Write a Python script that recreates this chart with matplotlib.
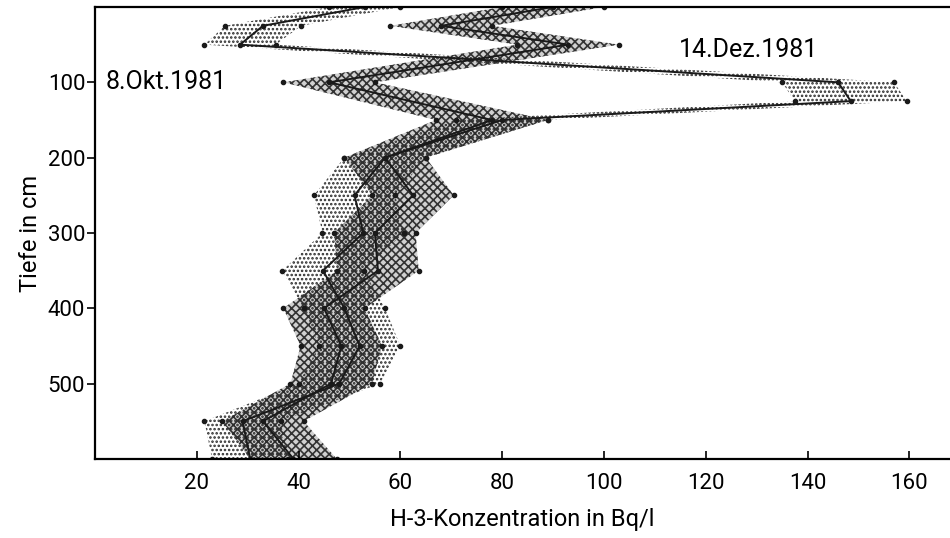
import numpy as np
import matplotlib.pyplot as plt

# Tiefenprofile H-3
tiefe_dez = [0, 25, 50, 100, 125, 150, 200, 250, 300, 350, 400, 450, 500, 550, 600]
konz_dez = [53, 33, 28.5, 146, 148.5, 80, 57, 51, 52.7, 44.8, 49, 52, 48, 29, 30.5]
fehler_dez = [7, 7.5, 7, 11, 11, 9, 8, 8, 8, 8, 8, 8, 8, 7.5, 7.5]

tiefe_okt = [0, 25, 50, 100, 150, 200, 250, 300, 350, 400, 450, 500, 550, 600]
konz_okt = [90, 68, 93, 46, 78, 57, 62.5, 55, 55.6, 45, 48.4, 46.4, 33, 39]
fehler_okt = [10, 10, 10, 9, 11, 8, 8, 8, 8, 8, 8, 8, 8, 8.5]

x_ticks = [20, 40, 60, 80, 100, 120, 140, 160]
y_ticks = [100, 200, 300, 400, 500]

plt.rcParams['font.family'] = ['Roboto', 'DejaVu Sans']
plt.rcParams['hatch.linewidth'] = 1.2

fig = plt.figure(figsize=(9.5, 5.38), dpi=100)
ax = fig.add_axes([0.1, 0.147, 0.9, 0.84])

#%% Baender (Fehlerbereiche)
td = np.array(tiefe_dez)
kd = np.array(konz_dez)
fd = np.array(fehler_dez)
to = np.array(tiefe_okt)
ko = np.array(konz_okt)
fo = np.array(fehler_okt)

# 8. Okt: gerastertes Band, 14. Dez: punktiertes Band
ax.fill_betweenx(to, ko - fo, ko + fo, facecolor='#d0d0d0', edgecolor='#333333',
                 hatch='xxxx', linewidth=0)
ax.fill_betweenx(td, kd - fd, kd + fd, facecolor='none', edgecolor='#2a2a2a',
                 hatch='....', linewidth=0)

#%% Linien mit Messpunkten
ax.plot(ko, to, color='#1a1a1a', lw=1.4, marker='o', ms=3)
ax.plot(kd, td, color='#1a1a1a', lw=1.4, marker='o', ms=3)
for k, f, t in [(ko, fo, to), (kd, fd, td)]:
    ax.plot(k - f, t, 'o', color='#1a1a1a', ms=3)
    ax.plot(k + f, t, 'o', color='#1a1a1a', ms=3)

ax.text(2, 100, '8.Okt.1981', fontsize=18, va='center', ha='left')
ax.text(114.7, 57, '14.Dez.1981', fontsize=18, va='center', ha='left')

#%% Achsen
ax.set_xlim(0, 168)
ax.set_ylim(600, 0)
ax.set_xticks(x_ticks)
ax.set_yticks(y_ticks)
ax.tick_params(axis='x', direction='in', length=6, width=1.2, labelsize=16, pad=10)
ax.tick_params(axis='y', direction='out', length=6, width=1.2, labelsize=16, pad=1)
ax.set_xlabel('H-3-Konzentration in Bq/l', fontsize=17, labelpad=10)
ax.set_ylabel('Tiefe in cm', fontsize=17)
ax.spines['right'].set_visible(False)
for s in ['left', 'bottom', 'top']:
    ax.spines[s].set_linewidth(1.6)

plt.savefig('out.png', dpi=100)
